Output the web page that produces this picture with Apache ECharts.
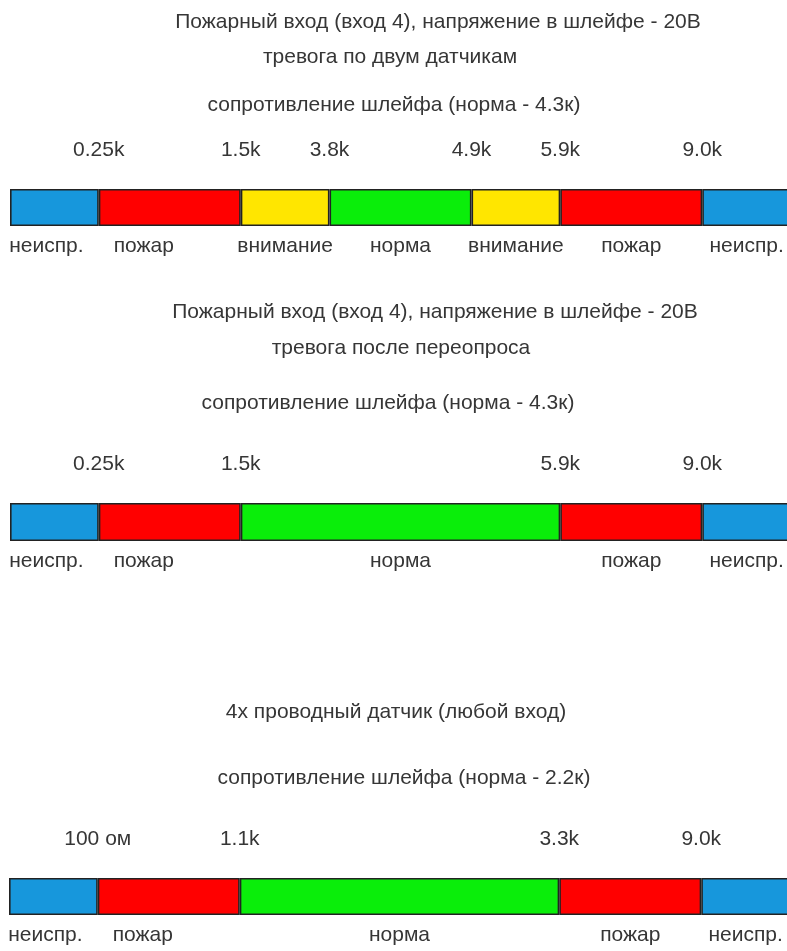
<!DOCTYPE html>
<html>
<head>
<meta charset="utf-8">
<script src="https://cdn.jsdelivr.net/npm/echarts@6/dist/echarts.min.js"></script>
<style>
html,body{margin:0;padding:0;background:#ffffff;}
#chart{width:787px;height:951px;}
</style>
</head>
<body>
<div id="chart"></div>
<script>
// ---------- DATA ----------
// Section 1: fire input, alarm by two sensors
const titles1 = ['Пожарный вход (вход 4), напряжение в шлейфе - 20В', 'тревога по двум датчикам', 'сопротивление шлейфа (норма - 4.3к)'];
const states1 = ['неиспр.', 'пожар', 'внимание', 'норма', 'внимание', 'пожар', 'неиспр.'];
const widths1 = [1, 1.6, 1, 1.6, 1, 1.6, 1];          // schematic segment lengths
const thresholds1 = ['0.25k', '1.5k', '3.8k', '4.9k', '5.9k', '9.0k'];

// Section 2: fire input, alarm after re-query
const titles2 = ['Пожарный вход (вход 4), напряжение в шлейфе - 20В', 'тревога после переопроса', 'сопротивление шлейфа (норма - 4.3к)'];
const states2 = ['неиспр.', 'пожар', 'норма', 'пожар', 'неиспр.'];
const widths2 = [1, 1.6, 3.6, 1.6, 1];
const thresholds2 = ['0.25k', '1.5k', '5.9k', '9.0k'];

// Section 3: 4-wire sensor
const titles3 = ['4x проводный датчик (любой вход)', 'сопротивление шлейфа (норма - 2.2к)'];
const states3 = ['неиспр.', 'пожар', 'норма', 'пожар', 'неиспр.'];
const widths3 = [1, 1.6, 3.6, 1.6, 1];
const thresholds3 = ['100 ом', '1.1k', '3.3k', '9.0k'];

const stateColors = { 'неиспр.': '#1797dc', 'пожар': '#ff0000', 'внимание': '#ffe600', 'норма': '#0aee0a' };

// ---------- LAYOUT / STYLE ----------
const FONT = '"Liberation Sans", Arial, sans-serif';
const TEXT_COLOR = '#363636';
const FONT_SIZE = 21;

const sections = [
  { titles: titles1, states: states1, widths: widths1, thresholds: thresholds1,
    grid: { left: 10, top: 189, width: 781, height: 37 },
    titleX: [438, 390, 394], titleY: [22, 57, 105] },
  { titles: titles2, states: states2, widths: widths2, thresholds: thresholds2,
    grid: { left: 10, top: 503, width: 781, height: 38 },
    titleX: [435, 401, 388], titleY: [312, 348, 403] },
  { titles: titles3, states: states3, widths: widths3, thresholds: thresholds3,
    grid: { left: 9, top: 878, width: 781, height: 37 },
    titleX: [396, 404], titleY: [712, 778] }
];

const grid = [], xAxis = [], yAxis = [], series = [], graphic = [];

sections.forEach((s, gi) => {
  grid.push(Object.assign({ containLabel: false, outerBoundsMode: 'none' }, s.grid));
  const total = s.widths.reduce((a, b) => a + b, 0);
  const bounds = [];
  let acc = 0;
  s.widths.forEach((w, i) => { acc += w; if (i < s.widths.length - 1) bounds.push(+acc.toFixed(6)); });

  xAxis.push({
    gridIndex: gi, type: 'value', min: 0, max: +total.toFixed(6), position: 'top',
    axisLine: { show: false }, axisTick: { show: false }, splitLine: { show: false },
    axisLabel: {
      customValues: bounds,
      formatter: function (v) {
        const i = bounds.findIndex(b => Math.abs(b - v) < 1e-6);
        return i >= 0 ? s.thresholds[i] : '';
      },
      margin: 39, verticalAlign: 'middle', color: TEXT_COLOR,
      fontSize: FONT_SIZE, fontFamily: FONT
    }
  });
  yAxis.push({ gridIndex: gi, type: 'category', data: ['шлейф'], show: false });

  s.states.forEach((st, i) => {
    let dx = 0;
    if (i === 0) dx = -8;
    if (i === 1) dx = -26;
    series.push({
      type: 'bar', name: st, xAxisIndex: gi, yAxisIndex: gi, stack: 'loop' + gi,
      barWidth: '100%', silent: true, animation: false,
      data: [s.widths[i]],
      itemStyle: { color: stateColors[st], borderColor: '#222222', borderWidth: 1.6 },
      label: {
        show: true, formatter: st, position: ['50%', '100%'], offset: [dx, 20],
        align: 'center', verticalAlign: 'middle', color: TEXT_COLOR,
        fontSize: FONT_SIZE, fontFamily: FONT
      }
    });
  });

  s.titles.forEach((t, ti) => {
    graphic.push({
      type: 'text', x: s.titleX[ti], y: s.titleY[ti], silent: true,
      style: { text: t, fill: TEXT_COLOR, font: FONT_SIZE + 'px ' + FONT, align: 'center', verticalAlign: 'middle' }
    });
  });
});

const chart = echarts.init(document.getElementById('chart'), null, { renderer: 'canvas' });
chart.setOption({
  backgroundColor: '#ffffff',
  animation: false,
  grid, xAxis, yAxis, series, graphic
});
</script>
</body>
</html>
